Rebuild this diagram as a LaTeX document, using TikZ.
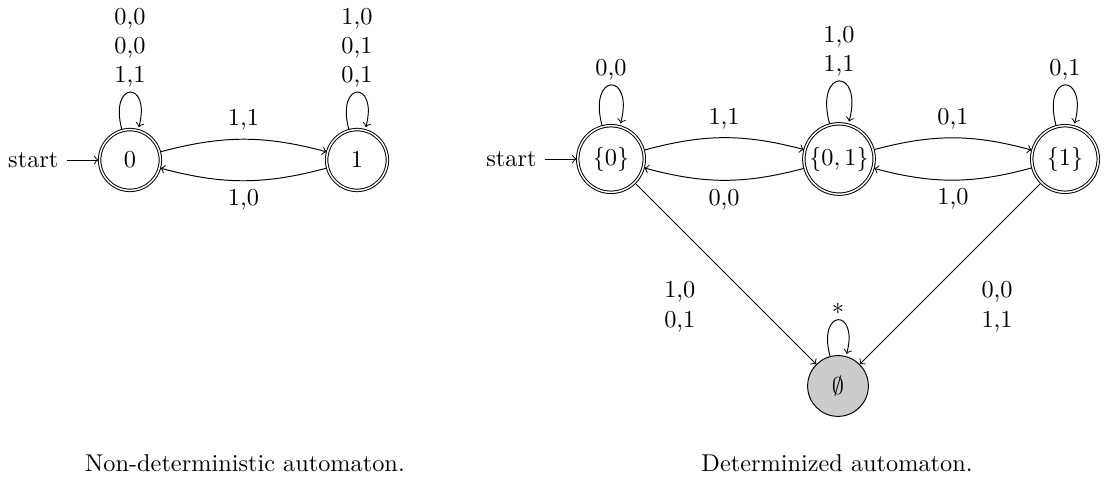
\documentclass[tikz,border=0pt]{standalone}
\usetikzlibrary{automata,positioning}
\begin{document}
\begin{tikzpicture}[x=0.4115pt,y=0.4115pt,
  >=to, shorten >=0pt,
  every state/.style={draw,circle,minimum size=25pt,inner sep=1pt},
  bigstate/.style={minimum size=27.4pt},
  sink/.style={fill=black!20},
  lbl/.style={align=center,inner sep=2pt},
  initial text=start]
\useasboundingbox (0,0) rectangle (1104,477);
% Non-deterministic automaton
\node[state,initial,accepting] (n0) at (130,317) {$0$};
\node[state,accepting] (n1) at (357,317) {$1$};
\path[->]
  (n0) edge[loop above] node[above,lbl] {0,0\\0,0\\1,1} (n0)
  (n1) edge[loop above] node[above,lbl] {1,0\\0,1\\0,1} (n1)
  (n0) edge[bend left=15] node[above] {1,1} (n1)
  (n1) edge[bend left=15] node[below] {1,0} (n0);
\node (capL) at (245,14) {Non-deterministic automaton.};
% Determinized automaton
\node[state,bigstate,initial,accepting] (d0) at (611,318) {$\{0\}$};
\node[state,bigstate,accepting] (d01) at (839,318) {$\{0,1\}$};
\node[state,bigstate,accepting] (d1) at (1065,318) {$\{1\}$};
\node[state,sink] (de) at (838,91) {$\emptyset$};
\path[->]
  (d0) edge[loop above] node[above,lbl] {0,0} (d0)
  (d01) edge[loop above] node[above,lbl] {1,0\\1,1} (d01)
  (d1) edge[loop above] node[above,lbl] {0,1} (d1)
  (de) edge[loop above] node[above,lbl] {$*$} (de)
  (d0) edge[bend left=15] node[above] {1,1} (d01)
  (d01) edge[bend left=15] node[below] {0,0} (d0)
  (d01) edge[bend left=15] node[above] {0,1} (d1)
  (d1) edge[bend left=15] node[below] {1,0} (d01)
  (d0) edge node[midway,lbl,xshift=-18.9pt,yshift=-13.6pt] {1,0\\0,1} (de)
  (d1) edge node[midway,lbl,xshift=19.3pt,yshift=-13.6pt] {0,0\\1,1} (de);
\node (capR) at (837,14) {Determinized automaton.};
\end{tikzpicture}
\end{document}
